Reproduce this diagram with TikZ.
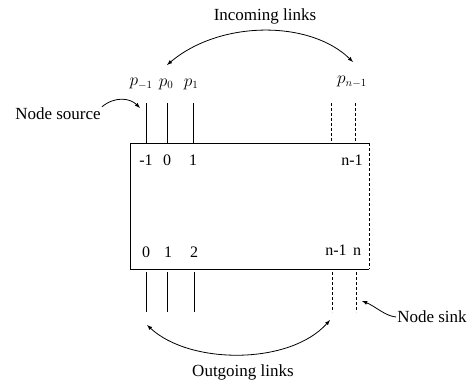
\documentclass[tikz,border=0pt]{standalone}
\usepackage{fontspec}
\setmainfont{Liberation Serif}
\usetikzlibrary{arrows}

\begin{document}
\begin{tikzpicture}[x=1pt,y=-1pt,
	lbl/.style={font=\fontsize{17}{20}\selectfont, inner sep=1pt},
	idx/.style={font=\fontsize{16}{19}\selectfont, inner sep=1pt},
	link/.style={-latex, thick}]

	\useasboundingbox (0,0) rectangle (473,382);

	% The node box
	\draw [thick] (369,143) -- (130,143) -- (130,269) -- (369,269);
	\draw [densely dashed] (369,143) -- (369,269);

	% incoming lines
	\foreach \x in {146,167,193}
		\draw [semithick] (\x,103) -- (\x,143);
	\foreach \x in {331,355}
		\draw [densely dashed] (\x,103) -- (\x,143);
	% outgoing lines
	\foreach \x in {146,167,194}
		\draw [semithick] (\x,272) -- (\x,312);
	\foreach \x in {332,356}
		\draw [densely dashed] (\x,272) -- (\x,312);

	% labels of the links
	\node (pm) [idx] at (141,84) {$p_{-1}$};
	\node (p0) [idx] at (166,84) {$p_0$};
	\node (p1) [idx] at (191,84) {$p_1$};
	\node (pn) [idx] at (352,82) {$p_{n-1}$};
	\node (im) [idx] at (146,160) {-1};
	\node (i0) [idx] at (167,160) {0};
	\node (i1) [idx] at (193,160) {1};
	\node (in) [idx] at (352,160) {n-1};
	\node (o0) [idx] at (146,252) {0};
	\node (o1) [idx] at (168,252) {1};
	\node (o2) [idx] at (194,252) {2};
	\node (on) [idx] at (336,250) {n-1};
	\node (os) [idx] at (357,252) {n};

	% texts
	\node (inc) [lbl] at (265,16) {Incoming links};
	\node (out) [lbl] at (243,372) {Outgoing links};
	\node (src) [lbl] at (58,114) {Node source};
	\node (snk) [lbl] at (432,317) {Node sink};

	% arrows
	\coordinate (a1) at (167,65);
	\coordinate (a2) at (353,62);
	\draw [latex-latex, thick] (a1) .. controls (220,20) and (310,20) .. (a2);
	\coordinate (b1) at (147,325);
	\coordinate (b2) at (330,320);
	\draw [latex-latex, thick] (b1) .. controls (190,365) and (290,365) .. (b2);
	\coordinate (s1) at (140,108);
	\draw [link] (src.north east) .. controls (115,96) and (130,98) .. (s1);
	\coordinate (s2) at (362,301);
	\draw [link] (snk.west) .. controls (385,316) and (375,306) .. (s2);

\end{tikzpicture}
\end{document}
